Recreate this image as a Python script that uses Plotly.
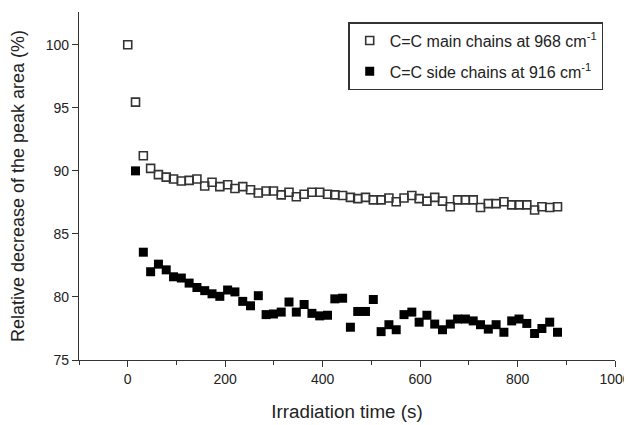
import plotly.graph_objects as go

# irradiation time (s)
time_main = [0, 16, 32, 47, 63, 79, 94, 110, 126, 142, 158, 173, 189, 205, 220,
             236, 252, 268, 284, 299, 315, 331, 346, 362, 378, 394, 410, 425,
             441, 457, 472, 488, 504, 520, 536, 551, 567, 583, 598, 614, 630,
             646, 662, 677, 693, 709, 724, 740, 756, 772, 788, 803, 819, 835,
             850, 866, 882]
time_side = time_main[1:]

# C=C main chains at 968 cm-1 (%)
main_chains = [100.0, 95.45, 91.2, 90.2, 89.7, 89.5, 89.35, 89.2, 89.25, 89.35,
               88.8, 89.1, 88.75, 88.9, 88.6, 88.75, 88.5, 88.25, 88.4, 88.4,
               88.1, 88.3, 87.95, 88.15, 88.3, 88.3, 88.15, 88.1, 88.05, 87.9,
               87.8, 87.9, 87.7, 87.7, 87.85, 87.55, 87.85, 88.05, 87.8, 87.6,
               87.9, 87.6, 87.15, 87.7, 87.7, 87.7, 87.1, 87.4, 87.4, 87.55,
               87.3, 87.3, 87.3, 86.9, 87.15, 87.1, 87.15]

# C=C side chains at 916 cm-1 (%)
side_chains = [90.0, 83.55, 82.0, 82.6, 82.15, 81.6, 81.5, 81.1, 80.75, 80.5,
               80.25, 80.05, 80.55, 80.4, 79.65, 79.3, 80.1, 78.6, 78.65, 78.8,
               79.6, 78.8, 79.4, 78.7, 78.5, 78.55, 79.85, 79.9, 77.6, 78.85,
               78.85, 79.8, 77.25, 77.8, 77.4, 78.6, 78.8, 78.0, 78.55, 77.85,
               77.4, 77.85, 78.25, 78.25, 78.1, 77.8, 77.45, 77.8, 77.2, 78.1,
               78.25, 77.9, 77.1, 77.5, 78.0, 77.2]

x_ticks = [0, 200, 400, 600, 800, 1000]
y_ticks = [75, 80, 85, 90, 95, 100]

FONT = "Liberation Sans, Arial, sans-serif"
INK = "#222222"

fig = go.Figure()

fig.add_trace(go.Scatter(
    x=time_main, y=main_chains, mode="markers",
    name="C=C main chains at 968 cm<sup>-1</sup>", legendgroup="main",
    marker=dict(symbol="square-open", size=8, color="#333333",
                line=dict(width=1.6, color="#333333"))))

fig.add_trace(go.Scatter(
    x=time_side, y=side_chains, mode="markers",
    name="C=C side chains at 916 cm<sup>-1</sup>", legendgroup="side",
    marker=dict(symbol="square", size=9, color="#000000",
                line=dict(width=0))))

axis_style = dict(showline=True, linecolor="#333333", linewidth=1.2,
                  ticks="outside", ticklen=6, tickwidth=1.2, tickcolor="#333333",
                  showgrid=False, zeroline=False, automargin=False,
                  tickfont=dict(family=FONT, size=14, color=INK))

fig.update_xaxes(range=[-100, 1000], tickvals=x_ticks,
                 title=dict(text="Irradiation time (s)", standoff=18,
                            font=dict(family=FONT, size=18.8, color=INK)),
                 minor=dict(dtick=100, tick0=0, ticks="outside", ticklen=4,
                            tickcolor="#333333"),
                 **axis_style)
fig.update_yaxes(range=[75, 102.6], tickvals=y_ticks,
                 title=dict(text="Relative decrease of the peak area (%)",
                            standoff=16,
                            font=dict(family=FONT, size=18, color=INK)),
                 **axis_style)

# the page body adds an 8 px offset, so the figure is 8 px smaller each way
fig.update_layout(
    width=624, height=417,
    margin=dict(l=71, r=17, t=4, b=65),
    plot_bgcolor="white", paper_bgcolor="white",
    font=dict(family=FONT, color=INK),
    legend=dict(x=0.978, y=0.971, xanchor="right", yanchor="top",
                bgcolor="white", bordercolor="#333333", borderwidth=1.5,
                font=dict(family=FONT, size=16, color=INK),
                tracegroupgap=7, itemwidth=30),
)

fig.write_html("out.html")
